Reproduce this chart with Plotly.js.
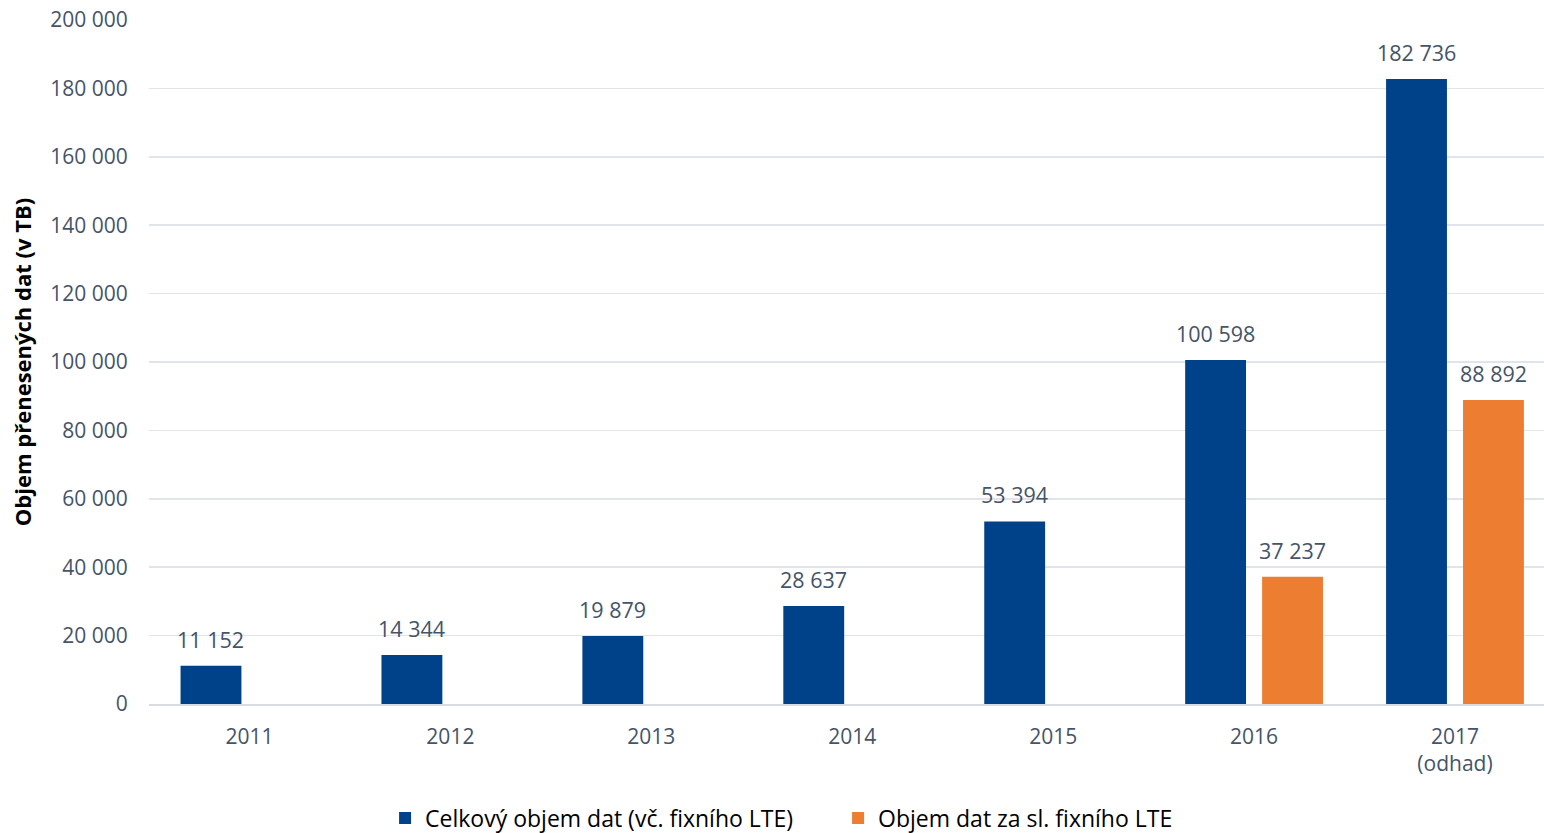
<!DOCTYPE html>
<html>
<head>
<meta charset="utf-8">
<script src="https://cdn.plot.ly/plotly-3.0.1.min.js"></script>
<style>html,body{margin:0;padding:0;background:#fff}#chart{width:1544px;height:833px}</style>
</head>
<body>
<div id="chart"></div>
<script>
const categories = ['2011','2012','2013','2014','2015','2016','2017'];
const tickLabels = ['2011','2012','2013','2014','2015','2016','2017<br>(odhad)'];
const totalName = 'Celkový objem dat (vč. fixního LTE)';
const totalValues = [11152, 14344, 19879, 28637, 53394, 100598, 182736];
const lteName = 'Objem dat za sl. fixního LTE';
const lteValues = [null, null, null, null, null, 37237, 88892];
const yTicks = [0,20000,40000,60000,80000,100000,120000,140000,160000,180000,200000];

const txt = '#44546A';
const fmt = v => String(v).replace(/\B(?=(\d{3})+(?!\d))/g, ' ');

const traces = [
  {type:'bar', name: totalName, x: categories, y: totalValues, marker:{color:'#00428A'}, hoverinfo:'y'},
  {type:'bar', name: lteName, x: categories, y: lteValues, marker:{color:'#ED7D31'}, hoverinfo:'y'}
];

const annotations = [];
categories.forEach((c,i)=>{
  if (totalValues[i]!=null) annotations.push({x:i, y:totalValues[i], xref:'x', yref:'y', text:fmt(totalValues[i]), showarrow:false, xshift:-38.5, yshift:10, yanchor:'bottom', font:{family:'Open Sans', size:21.5, color:txt}});
  if (lteValues[i]!=null) annotations.push({x:i, y:lteValues[i], xref:'x', yref:'y', text:fmt(lteValues[i]), showarrow:false, xshift:38.5, yshift:10, yanchor:'bottom', font:{family:'Open Sans', size:21.5, color:txt}});
});

const layout = {
  width:1544, height:833,
  margin:{l:149, r:0, t:20, b:129},
  paper_bgcolor:'#fff', plot_bgcolor:'#fff',
  font:{family:'Open Sans', color:txt, size:21},
  separators:', ',
  barmode:'group', bargap:0.234, bargroupgap:0.209,
  showlegend:true,
  legend:{orientation:'h', x:0.2494, xref:'container', xanchor:'left', y:0.018, yref:'container', yanchor:'middle', entrywidth:408, font:{size:23, color:'#000'}, traceorder:'normal'},
  xaxis:{type:'category', automargin:false, range:[-0.5, 6.443], tickvals:categories, ticktext:tickLabels, ticks:'outside', ticklen:13, tickcolor:'rgba(0,0,0,0)', showgrid:false, showline:true, linecolor:'#D9DDE3', linewidth:1.5, zeroline:false, tickfont:{size:21, color:txt}},
  yaxis:{automargin:false, range:[0,200000], tickvals:yTicks, tickformat:',d', ticks:'outside', ticklen:16, tickcolor:'rgba(0,0,0,0)', showgrid:true, gridcolor:'#E1E4EA', gridwidth:1.5, zeroline:false, showline:false, tickfont:{size:21, color:txt},
    title:{text:'Objem přenesených dat (v TB)', font:{size:22, color:'#000', family:'Open Sans', weight:'bold'}, standoff:12}},
  annotations: annotations
};

Plotly.newPlot('chart', traces, layout, {displayModeBar:false, staticPlot:true});
</script>
</body>
</html>
